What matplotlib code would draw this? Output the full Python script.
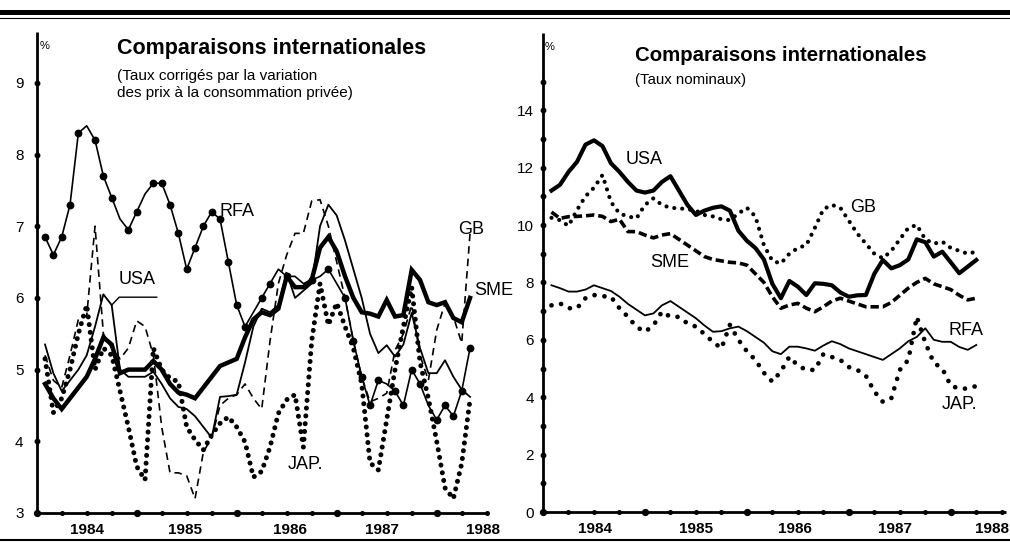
import matplotlib
matplotlib.use("Agg")
import matplotlib.pyplot as plt
from matplotlib.lines import Line2D
import numpy as np

plt.rcParams['font.family'] = ['Liberation Sans', 'DejaVu Sans']

# ---------------- data (monthly, month 0 = July 1983) ----------------
months_left = list(range(1, 53))
rfa_left = [6.85, 6.6, 6.85, 7.3, 8.3, 8.4, 8.2, 7.7, 7.4, 7.1, 6.95, 7.2, 7.45, 7.6, 7.6, 7.3, 6.9, 6.4, 6.7, 7.0,
            7.2, 7.1, 6.5, 5.9, 5.6, 5.8, 6.0, 6.2, 6.4, 6.3, 6.3, 6.2, 6.25, 6.3, 6.4, 6.2, 6.0, 5.4, 4.9, 4.5,
            4.85, 4.8, 4.7, 4.5, 5.0, 4.8, 4.5, 4.3, 4.5, 4.35, 4.7, 5.3]
usa_left = [5.35, 4.95, 4.7, 4.85, 5.0, 5.2, 5.6, 6.05, 5.9, 5.0, 4.9, 4.9, 4.9, 4.97, 4.8, 4.6, 4.48, 4.45, 4.35, 4.2,
            4.05, 4.62, 4.63, 4.65, 5.1, 5.6, 5.85, 5.8, 5.9, 6.35, 6.0, 6.1, 6.2, 7.0, 7.3, 7.15, 6.8, 6.4, 6.0, 5.5,
            5.23, 5.34, 5.18, 5.35, 5.79, 5.3, 4.95, 4.95, 5.13, 4.9, 4.72, 4.62]
sme_left = [4.8, 4.6, 4.45, 4.6, 4.75, 4.9, 5.15, 5.45, 5.35, 4.95, 5.0, 5.0, 5.0, 5.12, 5.0, 4.8, 4.68, 4.65, 4.6, 4.75,
            4.9, 5.05, 5.1, 5.15, 5.45, 5.7, 5.8, 5.76, 5.85, 6.3, 6.15, 6.15, 6.25, 6.7, 6.85, 6.65, 6.3, 6.0, 5.8, 5.78,
            5.74, 5.97, 5.74, 5.76, 6.39, 6.25, 5.94, 5.9, 5.94, 5.72, 5.66, 6.0]
gb_left = [5.2, 4.85, 4.75, 5.2, 5.7, 5.75, 7.0, 5.5, 5.3, 5.15, 5.3, 5.68, 5.6, 5.2, 4.2, 3.56, 3.56, 3.52, 3.2, 3.85,
           4.05, 4.5, 4.6, 4.65, 4.8, 4.6, 4.45, 5.4, 6.2, 6.6, 6.9, 6.9, 7.35, 7.37, 7.0, 6.5, 6.0, 5.4, 4.9, 4.55,
           4.6, 4.67, 5.27, 5.5, 5.9, 5.2, 4.85, 5.55, 5.93, 5.74, 5.37, 6.9]
jap_left = [5.15, 4.4, 4.6, 5.0, 5.5, 5.9, 5.0, 5.3, 5.2, 4.7, 4.2, 3.65, 3.46, 5.3, 5.0, 4.88, 4.83, 4.2, 4.02, 3.88,
            4.09, 4.25, 4.34, 4.2, 3.99, 3.5, 3.58, 3.92, 4.39, 4.58, 4.65, 3.92, 5.4, 6.2, 5.62, 5.93, 5.6, 5.3, 4.8, 3.7,
            3.6, 4.3, 5.0, 5.6, 6.15, 5.1, 4.6, 4.0, 3.35, 3.2, 3.69, 4.58]

months_right = list(range(1, 52))
usa_right = [11.2, 11.4, 11.85, 12.2, 12.8, 12.95, 12.75, 12.15, 11.85, 11.5, 11.2, 11.13, 11.2, 11.5, 11.7, 11.2, 10.7,
             10.35, 10.5, 10.6, 10.65, 10.5, 9.8, 9.45, 9.2, 8.8, 7.95, 7.45, 8.05, 7.85, 7.56, 7.97, 7.95, 7.9, 7.65,
             7.5, 7.55, 7.56, 8.3, 8.78, 8.49, 8.6, 8.8, 9.5, 9.4, 8.9, 9.07, 8.7, 8.32, 8.55, 8.78]
gb_right = [10.25, 10.17, 9.97, 10.52, 11.0, 11.3, 11.74, 10.8, 10.4, 10.3, 10.23, 10.7, 10.93, 10.7, 10.6, 10.58, 10.55,
            10.5, 10.35, 10.3, 10.2, 10.17, 10.4, 10.6, 10.3, 9.3, 8.75, 8.66, 9.0, 9.2, 9.3, 9.9, 10.55, 10.7, 10.6,
            10.15, 9.7, 9.35, 9.0, 8.84, 9.1, 9.5, 9.9, 10.0, 9.5, 9.35, 9.42, 9.2, 9.1, 9.0, 9.07]
sme_right = [10.45, 10.23, 10.29, 10.3, 10.32, 10.35, 10.3, 10.12, 10.2, 9.77, 9.77, 9.65, 9.55, 9.65, 9.7, 9.5, 9.3,
             9.1, 8.9, 8.8, 8.75, 8.7, 8.68, 8.6, 8.3, 8.0, 7.5, 7.1, 7.21, 7.27, 7.1, 6.98, 7.15, 7.35, 7.45, 7.35,
             7.25, 7.15, 7.15, 7.15, 7.3, 7.55, 7.8, 8.0, 8.14, 7.95, 7.85, 7.75, 7.55, 7.39, 7.45]
rfa_right = [7.9, 7.8, 7.68, 7.68, 7.75, 7.9, 7.8, 7.7, 7.5, 7.25, 7.05, 6.85, 6.92, 7.2, 7.35, 7.15, 6.95, 6.75, 6.5,
             6.28, 6.3, 6.4, 6.46, 6.3, 6.1, 5.9, 5.6, 5.5, 5.76, 5.76, 5.7, 5.62, 5.8, 5.95, 5.85, 5.7, 5.6, 5.5, 5.4,
             5.3, 5.5, 5.7, 5.95, 6.1, 6.4, 6.0, 5.93, 5.93, 5.75, 5.65, 5.82]
jap_right = [7.2, 7.27, 7.1, 7.1, 7.45, 7.56, 7.52, 7.5, 7.1, 6.8, 6.45, 6.28, 6.5, 6.98, 6.8, 6.8, 6.57, 6.46, 6.2,
             5.93, 5.7, 6.52, 6.0, 5.6, 5.3, 4.85, 4.54, 4.9, 5.41, 5.1, 4.95, 4.95, 5.5, 5.4, 5.3, 5.05, 4.95, 4.75,
             4.2, 3.84, 3.96, 4.95, 5.3, 6.8, 5.9, 5.2, 5.0, 4.4, 4.3, 4.3, 4.39]

year_labels = ['1984', '1985', '1986', '1987', '1988']
year_pos_left = [6.0, 17.8, 30.4, 41.4, 53.6]
year_pos_right = [6.1, 18.0, 29.6, 41.4, 52.9]
yticks_left = [3, 4, 5, 6, 7, 8, 9]
yticks_right = [0, 2, 4, 6, 8, 10, 12, 14]

title = 'Comparaisons internationales'
subtitle_left_1 = '(Taux corrigés par la variation'
subtitle_left_2 = 'des prix à la consommation privée)'
subtitle_right = '(Taux nominaux)'

# ---------------- figure ----------------
W, H = 1010, 551
fig = plt.figure(figsize=(W / 100, H / 100), dpi=100)
fig.patch.set_facecolor('white')


def fx(px):
    return px / W


def fy(py):
    return 1 - py / H


tickfont = dict(fontfamily=['Liberation Sans', 'DejaVu Sans'])

axL = fig.add_axes([fx(36.7), fy(513), 450 / W, (513 - 32) / H])
axR = fig.add_axes([fx(543), fy(512), 463 / W, (512 - 33) / H])

axL.set_xlim(0, 54)
axL.set_ylim(3, 3 + (513 - 32) / 71.7)
axR.set_xlim(0, 54.5)
axR.set_ylim(0, (512 - 33) / 28.7)

for ax, ypos in ((axL, year_pos_left), (axR, year_pos_right)):
    for s in ('top', 'right'):
        ax.spines[s].set_visible(False)
    for s in ('left', 'bottom'):
        ax.spines[s].set_linewidth(2.0)
        ax.spines[s].set_color('black')
        ax.spines[s].set_capstyle('butt')
    ax.tick_params(length=0)
    ax.set_facecolor('none')
    ax.set_xticks(ypos)
    ax.set_xticklabels(year_labels, fontsize=11, fontweight='bold', **tickfont)
    ax.tick_params(axis='x', pad=7)
    # axis dots (quarterly, larger each July)
    qx = np.arange(0, 55, 3)
    ax.plot(qx, np.full(len(qx), ax.get_ylim()[0]), 'o', color='black', ms=2.6, clip_on=False, zorder=5)
    bx = np.array([0, 12, 24, 36, 48])
    ax.plot(bx, np.full(len(bx), ax.get_ylim()[0]), 'o', color='black', ms=4.2, clip_on=False, zorder=5)

axL.set_yticks(yticks_left)
axL.set_yticklabels([str(v) for v in yticks_left], fontsize=11, **tickfont)
axL.tick_params(axis='y', pad=9.5)
axL.plot(np.zeros(len(yticks_left)), yticks_left, 'o', color='black', ms=3.2, clip_on=False, zorder=5)

axR.set_yticks(yticks_right)
axR.set_yticklabels([str(v) for v in yticks_right], fontsize=11, **tickfont)
axR.tick_params(axis='y', pad=6.5)
ry = np.arange(0, 16)
axR.plot(np.zeros(len(ry)), ry, 'o', color='black', ms=3.2, clip_on=False, zorder=5)

# ---------------- left series ----------------
axL.plot(months_left, rfa_left, color='black', lw=1.2, marker='o', ms=4.6, markevery=0.037, zorder=3)
axL.plot(months_left, gb_left, color='black', lw=1.2, linestyle=(0, (4.5, 3.0)), zorder=3)
axL.plot(months_left, usa_left, color='black', lw=1.3, zorder=3)
axL.plot(months_left, sme_left, color='black', lw=3.2, solid_joinstyle='miter', zorder=4)
axL.plot(months_left, jap_left, color='black', lw=3.6, linestyle=(0, (0.01, 1.55)),
         dash_capstyle='round', zorder=3)

# ---------------- right series ----------------
axR.plot(months_right, usa_right, color='black', lw=3.0, zorder=4)
axR.plot(months_right, gb_right, color='black', lw=3.0, linestyle=(0, (0.01, 1.9)),
         dash_capstyle='round', zorder=3)
axR.plot(months_right, sme_right, color='black', lw=2.6, linestyle=(0, (2.3, 1.1)), zorder=3)
axR.plot(months_right, rfa_right, color='black', lw=1.3, zorder=3)
axR.plot(months_right, jap_right, color='black', lw=3.4, linestyle=(0, (0.01, 2.1)),
         dash_capstyle='round', zorder=3)

# ---------------- series labels ----------------
lab = dict(fontsize=13, color='black', ha='center', va='center')
axL.text(24.0, 7.2, 'RFA', **lab)
axL.text(12.0, 6.25, 'USA', **lab)
axL.text(52.1, 6.95, 'GB', **lab)
axL.text(54.9, 6.1, 'SME', **lab)
axL.text(32.3, 3.67, 'JAP.', **lab)
# USA leader line
axL.plot([14.4, 9.9, 9.0], [6.01, 6.01, 5.9], color='black', lw=1.0, zorder=4)

axR.text(11.9, 12.27, 'USA', **lab)
axR.text(37.7, 10.6, 'GB', **lab)
axR.text(14.9, 8.68, 'SME', **lab)
axR.text(49.8, 6.34, 'RFA', **lab)
axR.text(49.0, 3.73, 'JAP.', **lab)

# ---------------- titles ----------------
fig.text(fx(117), fy(54), title, fontsize=15.5, fontweight='bold', ha='left', va='baseline')
fig.text(fx(117), fy(80), subtitle_left_1, fontsize=11, ha='left', va='baseline')
fig.text(fx(117), fy(96.5), subtitle_left_2, fontsize=11, ha='left', va='baseline')
fig.text(fx(635), fy(61), title, fontsize=14.7, fontweight='bold', ha='left', va='baseline')
fig.text(fx(635), fy(84), subtitle_right, fontsize=10.8, ha='left', va='baseline')
fig.text(fx(40), fy(49), '%', fontsize=8, ha='left', va='baseline')
fig.text(fx(545), fy(50), '%', fontsize=8, ha='left', va='baseline')

# ---------------- frame rules ----------------
fig.add_artist(Line2D([0, 1], [fy(11.5), fy(11.5)], transform=fig.transFigure, color='black', lw=3.6))
fig.add_artist(Line2D([0, 1], [fy(17.5), fy(17.5)], transform=fig.transFigure, color='black', lw=0.8))
fig.add_artist(Line2D([0, 1], [fy(540), fy(540)], transform=fig.transFigure, color='black', lw=1.5))

fig.savefig('out.png', dpi=100, facecolor='white')
